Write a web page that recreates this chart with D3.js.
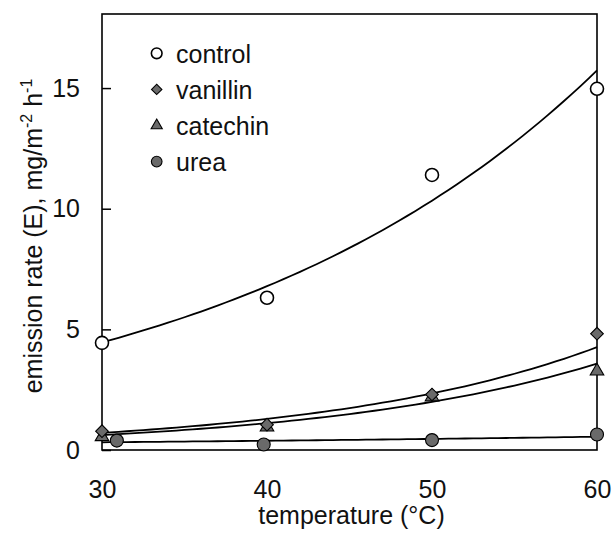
<!DOCTYPE html>
<html>
<head>
<meta charset="utf-8">
<script src="https://cdn.jsdelivr.net/npm/d3@7"></script>
<style>
  html, body { margin: 0; padding: 0; background: #fff; }
  svg { display: block; font-family: "Liberation Sans", Arial, sans-serif; }
</style>
</head>
<body>
<svg id="chart" width="612" height="538"></svg>
<script>
// ---- data ----
const seriesNames = ["control", "vanillin", "catechin", "urea"];
const controlT = [30, 40, 50, 60];
const controlE = [4.44, 6.31, 11.4, 14.97];
const vanillinT = [30, 40, 50, 60];
const vanillinE = [0.78, 1.05, 2.3, 4.82];
const catechinT = [30, 40, 50, 60];
const catechinE = [0.55, 0.95, 2.2, 3.27];
const ureaT = [30.9, 39.8, 50, 60];
const ureaE = [0.39, 0.23, 0.41, 0.64];
// fitted exponential curves: value at 30 °C and at 60 °C
const fitStart = [4.46, 0.71, 0.62, 0.32];
const fitEnd = [15.73, 4.26, 3.58, 0.55];
const xTicks = [30, 40, 50, 60];
const yTicks = [0, 5, 10, 15];

(function () {
const svg = d3.select("#chart");
const mLeft = 102, mRight = 597, mTop = 14, mBottom = 450;
const x = d3.scaleLinear().domain([30, 60]).range([mLeft, mRight]);
const y = d3.scaleLinear().domain([0, 18.07]).range([mBottom, mTop]);
const fontSize = 25;

// frame
svg.append("rect").attr("x", mLeft).attr("y", mTop)
  .attr("width", mRight - mLeft).attr("height", mBottom - mTop)
  .attr("fill", "none").attr("stroke", "#000").attr("stroke-width", 1.6);

// y axis (ticks inside)
const yAxis = d3.axisLeft(y).tickValues(yTicks).tickSize(-9).tickPadding(22)
  .tickFormat(d3.format("d"));
const gy = svg.append("g").attr("transform", `translate(${mLeft},0)`).call(yAxis);
gy.select(".domain").remove();
gy.selectAll(".tick line").attr("stroke", "#000").attr("stroke-width", 1.5);
gy.selectAll(".tick text").attr("font-size", fontSize).attr("fill", "#111")
  .attr("font-family", "Liberation Sans, Arial, sans-serif");

// x axis labels
const xAxis = d3.axisBottom(x).tickValues(xTicks).tickSize(0).tickPadding(30)
  .tickFormat(d3.format("d"));
const gx = svg.append("g").attr("transform", `translate(0,${mBottom})`).call(xAxis);
gx.select(".domain").remove();
gx.selectAll(".tick text").attr("font-size", fontSize).attr("fill", "#111")
  .attr("font-family", "Liberation Sans, Arial, sans-serif");

// axis titles
svg.append("text").attr("x", (mLeft + mRight) / 2 + 2).attr("y", 524)
  .attr("text-anchor", "middle").attr("font-size", fontSize).attr("fill", "#111")
  .text("temperature (°C)");

const yt = svg.append("text")
  .attr("transform", `translate(42,${(mTop + mBottom) / 2 + 4}) rotate(-90)`)
  .attr("text-anchor", "middle").attr("font-size", fontSize).attr("fill", "#111");
yt.append("tspan").text("emission rate (E), mg/m");
yt.append("tspan").attr("font-size", 16).attr("dy", -10).text("-2");
yt.append("tspan").attr("dy", 10).text(" h");
yt.append("tspan").attr("font-size", 16).attr("dy", -10).text("-1");

// fitted curves
const tGrid = d3.range(30, 60.001, 0.5);
const line = d3.line().x(d => x(d[0])).y(d => y(d[1]));
fitStart.forEach((a, i) => {
  const b = Math.log(fitEnd[i] / a) / 30;
  const pts = tGrid.map(t => [t, a * Math.exp(b * (t - 30))]);
  svg.append("path").datum(pts).attr("d", line)
    .attr("fill", "none").attr("stroke", "#000").attr("stroke-width", 1.8);
});

// markers
const grey = "#6a6a6a";
const styles = {
  control: { shape: "circle", fill: "#fff" },
  vanillin: { shape: "diamond", fill: grey },
  catechin: { shape: "triangle", fill: grey },
  urea: { shape: "circle", fill: grey }
};
function drawMarker(g, kind, cx, cy, scale) {
  const st = styles[kind];
  if (st.shape === "circle") {
    g.append("circle").attr("cx", cx).attr("cy", cy).attr("r", 6.5 * scale)
      .attr("fill", st.fill).attr("stroke", "#000").attr("stroke-width", kind === "control" ? 1.6 : 1.1);
  } else if (st.shape === "diamond") {
    g.append("path").attr("d", d3.symbol(d3.symbolSquare, 80 * scale * scale)())
      .attr("transform", `translate(${cx},${cy}) rotate(45)`)
      .attr("fill", st.fill).attr("stroke", "#000").attr("stroke-width", 1.1);
  } else {
    g.append("path").attr("d", d3.symbol(d3.symbolTriangle, 80 * scale * scale)())
      .attr("transform", `translate(${cx},${cy})`)
      .attr("fill", st.fill).attr("stroke", "#000").attr("stroke-width", 1.1);
  }
}
const seriesData = [
  ["urea", ureaT, ureaE],
  ["catechin", catechinT, catechinE],
  ["vanillin", vanillinT, vanillinE],
  ["control", controlT, controlE]
];
const gm = svg.append("g");
seriesData.forEach(([name, ts, es]) => {
  ts.forEach((t, i) => drawMarker(gm, name, x(t), y(es[i]), 1));
});

// legend
const legY0 = 53.3, legStep = 36.1;
const gl = svg.append("g");
seriesNames.forEach((name, i) => {
  const cy = legY0 + i * legStep;
  drawMarker(gl, name, 156.7, cy, 0.82);
  gl.append("text").attr("x", 176).attr("y", cy + 9.5)
    .attr("font-size", fontSize).attr("fill", "#111").text(name);
});
})();
</script>
</body>
</html>
